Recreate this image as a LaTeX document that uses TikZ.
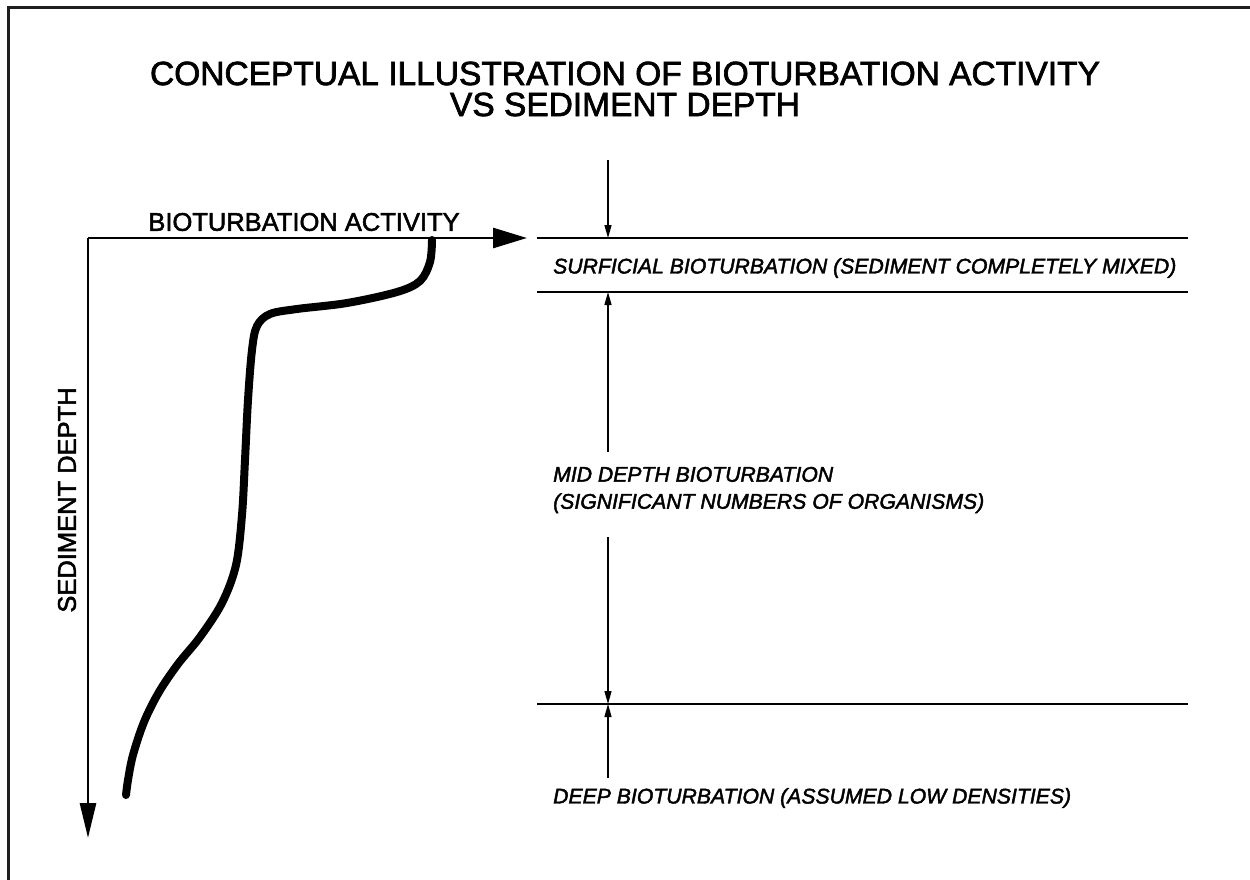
\documentclass[tikz,border=0pt]{standalone}
\usepackage{fontspec}
\setmainfont{Liberation Sans}
\newfontfamily\medfont{Liberation Sans}[FakeBold=2]
\newfontfamily\medital{Liberation Sans Italic}[FakeBold=2]
\usetikzlibrary{arrows.meta}
\tikzset{
  frameline/.style={line width=3pt, black!88},
  axis/.style={line width=2.8pt},
  dimline/.style={line width=1.4pt},
  guide/.style={line width=1.4pt},
  curveline/.style={line width=8pt, line cap=round, line join=round},
  titletext/.style={font=\medfont\fontsize{33.5}{31}\selectfont, inner sep=0pt, align=center},
  axistext/.style={font=\medfont\fontsize{25.5}{30}\selectfont, inner sep=0pt},
  zonetext/.style={font=\medital\fontsize{21.2}{27}\selectfont, inner sep=0pt, anchor=west, align=left},
  bigtip/.style={-{Triangle[length=34pt,width=20pt]}},
  vtip/.style={-{Triangle[length=35pt,width=16pt]}},
  smalltip/.style={-{Triangle[length=13pt,width=7pt]}},
}
\begin{document}
\begin{tikzpicture}[x=1pt,y=-1pt]
\useasboundingbox (0,0) rectangle (1250,880);
% frame
\draw[frameline] (8,880) -- (8,8) -- (1250,8);
% title
\node[titletext] (title) at (625,89) {CONCEPTUAL ILLUSTRATION OF BIOTURBATION ACTIVITY\\VS SEDIMENT DEPTH};
% axes
\coordinate (o) at (88,238);
\coordinate (xend) at (527,238);
\coordinate (yend) at (88,838);
\draw[axis,bigtip] (o) -- (xend);
\draw[axis,vtip] (o) -- (yend);
\node[axistext] (xl) at (304,222) {BIOTURBATION ACTIVITY};
\node[axistext, rotate=90] (yl) at (67,500) {SEDIMENT DEPTH};
% curve
\draw[curveline] plot[smooth, tension=0.55] coordinates {
 (432,240) (430,262) (420,281) (397,292) (347,303) (297,309) (270,314)
 (257,326) (252,350) (248,400) (245,460) (242,515) (236,565) (222,603)
 (200,637) (178,664) (159,692) (144,722) (133,755) (128,780) (126,795)};
% right-side guide lines
\coordinate (g1a) at (537,238); \coordinate (g1b) at (1188,238);
\coordinate (g2a) at (537,292); \coordinate (g2b) at (1188,292);
\coordinate (g3a) at (537,704); \coordinate (g3b) at (1188,704);
\draw[guide] (g1a) -- (g1b);
\draw[guide] (g2a) -- (g2b);
\draw[guide] (g3a) -- (g3b);
% dimension arrows
\coordinate (a0) at (608,160);
\coordinate (a1) at (608,238);
\coordinate (a2) at (608,292);
\coordinate (a2e) at (608,452);
\coordinate (a3s) at (608,537);
\coordinate (a3) at (608,704);
\coordinate (a4s) at (608,778);
\draw[dimline,smalltip] (a0) -- (a1);
\draw[dimline,smalltip] (a2e) -- (a2);
\draw[dimline,smalltip] (a3s) -- (a3);
\draw[dimline,smalltip] (a4s) -- (a3);
% zone labels
\node[zonetext] (z1) at (553,268) {SURFICIAL BIOTURBATION (SEDIMENT COMPLETELY MIXED)};
\node[zonetext] (z2) at (553,490) {MID DEPTH BIOTURBATION\\(SIGNIFICANT NUMBERS OF ORGANISMS)};
\node[zonetext] (z3) at (553,798) {DEEP BIOTURBATION (ASSUMED LOW DENSITIES)};
\end{tikzpicture}
\end{document}
